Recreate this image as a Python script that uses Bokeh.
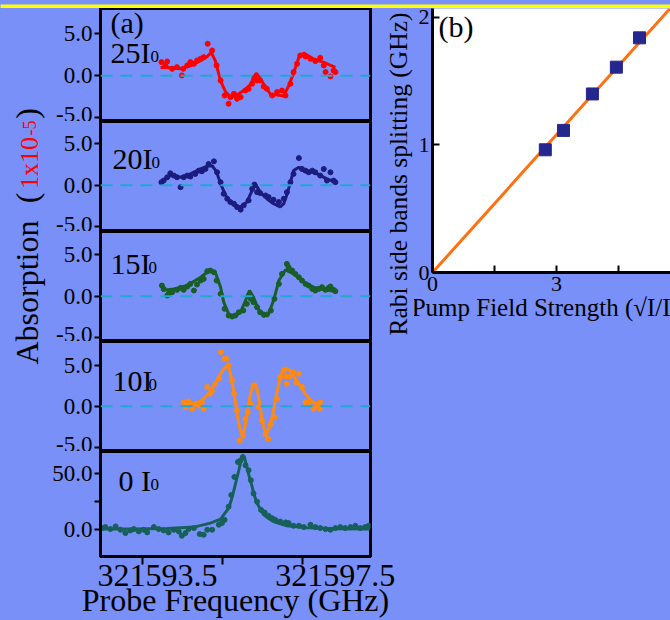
from bokeh.plotting import figure
from bokeh.models import Range1d, FixedTicker, Label, Span, Title
from bokeh.layouts import row, column
from bokeh.embed import file_html
from bokeh.resources import INLINE

# ---------------- data ----------------
# probe frequency given as offset (GHz) above 321590 GHz; absorption in 1e-5 units
x_tick_vals = [3.5, 7.5]
x_tick_labels = ["321593.5", "321597.5"]
x_minor_ticks = [3.163, 4.961, 6.758]

f25 = [3.59,3.68,3.72,3.83,3.94,4.05,4.08,4.17,4.24,4.32,4.39,4.47,4.54,4.63,4.73,4.83,4.92,5.01,5.10,5.14,5.22,5.29,5.37,5.48,5.55,5.63,5.68,5.74,5.81,5.89,5.96,6.08,6.19,6.30,6.38,6.49,6.56,6.64,6.71,6.83,6.94,7.05,7.16,7.24,7.28,7.39,7.46,7.50]
a25 = [1.63,1.23,1.71,0.83,1.03,0.04,0.83,1.23,1.63,1.43,1.83,2.02,2.22,3.81,3.02,1.23,-0.56,-2.34,-3.33,-2.54,-2.14,-2.74,-2.54,-1.75,-1.55,-0.95,-0.24,-0.56,-0.56,-1.27,-1.55,-2.34,-1.94,-1.75,-2.34,-0.95,0.44,1.43,2.42,2.30,2.02,1.75,2.14,1.23,0.44,-0.08,0.63,0.44]
fit25_f = [3.57,3.80,4.02,4.25,4.47,4.62,4.71,4.80,4.92,5.03,5.14,5.26,5.37,5.50,5.60,5.66,5.72,5.80,5.89,6.04,6.20,6.34,6.45,6.56,6.68,6.79,7.01,7.24,7.50]
fit25_a = [1.0,0.95,0.85,1.2,1.8,2.3,2.8,1.8,-0.6,-1.9,-2.5,-2.4,-2.0,-1.5,-1.0,-0.2,0.3,-0.2,-1.0,-2.2,-2.3,-2.4,-1.2,0.3,2.2,2.7,2.0,1.6,1.0]

f20 = [3.59,3.64,3.72,3.79,3.87,3.94,4.02,4.09,4.17,4.24,4.35,4.43,4.50,4.58,4.65,4.77,4.84,4.92,4.99,5.07,5.14,5.22,5.29,5.37,5.44,5.55,5.63,5.68,5.74,5.81,5.93,6.00,6.11,6.23,6.34,6.41,6.49,6.56,6.68,6.75,6.83,6.90,6.98,7.05,7.16,7.24,7.31,7.39,7.46,7.50]
a20 = [0.36,0.56,0.96,1.44,1.16,0.96,-0.24,0.96,1.16,1.04,1.36,1.76,1.68,1.96,2.56,2.88,1.56,0.36,-1.04,-1.64,-2.04,-2.24,-2.64,-2.96,-2.44,-1.84,-0.44,0.08,-0.84,-0.96,-1.24,-1.44,-1.76,-2.04,-1.64,-0.84,0.36,1.36,3.28,1.96,1.76,1.56,1.76,1.56,1.16,1.96,0.56,1.56,0.56,0.36]
fit20_f = [3.57,3.79,4.02,4.24,4.47,4.62,4.73,4.83,4.92,5.07,5.22,5.37,5.51,5.63,5.70,5.81,5.96,6.11,6.26,6.34,6.42,6.49,6.56,6.68,6.86,7.09,7.31,7.50]
fit20_a = [0.36,1.16,0.96,1.36,1.96,2.3,2.36,1.6,0.16,-1.64,-2.44,-2.64,-2.04,-0.64,0.16,-0.84,-1.64,-2.24,-2.64,-2.24,-1.0,0.36,1.76,2.16,1.76,1.36,0.76,0.36]

f15 = [3.60,3.64,3.72,3.75,3.83,3.94,4.02,4.09,4.17,4.24,4.32,4.39,4.47,4.54,4.62,4.69,4.77,4.83,4.92,5.01,5.10,5.18,5.25,5.33,5.43,5.51,5.55,5.60,5.66,5.74,5.81,5.89,5.96,6.05,6.13,6.23,6.30,6.41,6.45,6.53,6.60,6.68,6.75,6.83,6.90,6.98,7.05,7.13,7.20,7.28,7.35,7.39,7.46,7.50]
a15 = [1.28,0.88,0.08,0.28,0.48,0.76,1.0,0.76,1.16,1.48,0.68,1.40,1.88,2.08,3.0,3.08,2.88,1.88,0.28,-1.52,-2.32,-2.44,-2.32,-1.92,-1.72,-0.92,0.08,-0.32,-0.72,-1.32,-1.92,-2.20,-2.20,-1.72,-0.32,1.48,2.68,3.88,3.48,3.08,2.68,2.28,1.88,1.48,1.28,0.88,0.68,0.88,1.08,0.76,1.0,1.16,0.76,0.60]
fit15_f = [3.60,3.87,4.17,4.47,4.65,4.80,4.92,4.99,5.10,5.22,5.37,5.48,5.57,5.66,5.78,5.89,6.00,6.11,6.23,6.38,6.56,6.79,7.01,7.24,7.50]
fit15_a = [0.68,0.88,1.28,2.28,3.0,2.88,1.08,-0.72,-2.12,-2.44,-1.92,-0.52,0.68,-0.12,-1.72,-2.44,-2.12,-0.52,1.88,3.16,2.68,1.68,1.08,0.76,0.60]

f10 = [4.09,4.13,4.20,4.28,4.35,4.43,4.50,4.54,4.62,4.68,4.73,4.80,4.88,4.93,5.01,5.05,5.10,5.18,5.22,5.29,5.35,5.43,5.48,5.53,5.59,5.66,5.70,5.78,5.85,5.93,5.99,6.05,6.13,6.19,6.26,6.34,6.40,6.41,6.47,6.55,6.62,6.68,6.75,6.83,6.90,7.01,7.09,7.16,7.15]
a10 = [0.49,-0.12,0.57,-0.33,0.29,0.08,0.49,-0.33,2.34,1.52,1.93,2.75,3.36,6.64,5.82,5.82,5.0,3.16,1.52,-0.53,-4.22,-3.61,-1.56,-0.74,0.29,2.54,2.54,-0.12,-1.76,-3.40,-4.02,-2.17,-1.35,0.90,3.57,4.39,3.65,2.75,3.57,4.18,2.95,3.98,2.34,0.49,0.49,-0.33,0.08,0.49,-0.33]
fit10_f = [4.09,4.20,4.32,4.43,4.54,4.65,4.77,4.88,4.98,5.05,5.10,5.15,5.20,5.25,5.30,5.35,5.40,5.45,5.50,5.55,5.60,5.65,5.70,5.75,5.80,5.85,5.90,5.96,6.02,6.08,6.14,6.20,6.26,6.32,6.38,6.45,6.53,6.62,6.71,6.80,6.90,7.00,7.13]
fit10_a = [0.3,0.3,0.35,0.55,0.9,1.6,2.5,3.6,4.5,4.85,4.7,3.9,2.4,0.6,-1.2,-2.7,-3.4,-3.0,-1.6,0.2,1.7,2.6,2.75,1.9,0.3,-1.5,-2.8,-3.2,-2.6,-1.3,0.4,2.1,3.5,4.4,4.7,4.5,4.0,3.2,2.5,1.7,1.0,0.5,0.2]

f0 = [2.26,2.33,2.44,2.56,2.67,2.78,2.89,2.97,3.08,3.19,3.27,3.42,3.53,3.64,3.75,3.87,3.98,4.05,4.13,4.20,4.32,4.45,4.54,4.62,4.73,4.88,4.95,5.01,5.10,5.16,5.23,5.31,5.37,5.42,5.48,5.55,5.60,5.66,5.74,5.83,5.91,6.00,6.08,6.15,6.26,6.38,6.45,6.56,6.68,6.79,6.94,7.05,7.16,7.28,7.39,7.50,7.61,7.72,7.84,7.95,8.06,8.17,8.25]
a0 = [0.9,1.8,0.0,2.4,-0.6,-3.6,-1.2,0.0,-2.1,-0.6,-3.0,1.8,0.0,-1.2,-3.0,-0.6,-2.1,-6.0,-3.6,0.0,0.9,-4.5,-5.1,-0.6,-0.6,3.9,5.4,8.3,20.2,30.7,47.0,60.4,61.9,64.9,57.4,53.0,44.0,32.1,24.7,17.3,14.9,11.9,9.8,8.3,6.8,6.0,5.4,3.0,3.0,1.8,3.9,1.8,0.9,0.0,-0.6,0.9,1.8,0.9,1.8,3.0,0.9,1.8,3.0]
fit0_f = [2.22,2.97,3.72,4.32,4.69,4.92,5.10,5.16,5.22,5.28,5.33,5.38,5.42,5.46,5.51,5.56,5.63,5.68,5.74,5.89,6.00,6.11,6.41,6.86,7.46,8.29]
fit0_a = [0.0,0.0,0.6,1.8,5.4,8.9,18.8,26.0,35.1,45.0,53.0,62.0,66.4,64.0,56.0,48.0,38.1,30.0,23.2,12.8,9.5,6.8,3.0,1.2,0.3,0.0]

# panel (b): pump field strength sqrt(I/I0) vs Rabi splitting (GHz)
pump = [2.73, 3.17, 3.87, 4.45, 5.01]
split = [0.962, 1.114, 1.40, 1.61, 1.84]
fit_pump = [0.0, 6.0]
fit_split = [0.0, 2.16]

# ---------------- style ----------------
BLUE = "#7890f8"
FONT = "Liberation Serif"
CYAN = "#22a6d2"


def add_label(p, x, y, text, size, color="black", align="left"):
    p.add_layout(Label(x=x, y=y, text=text, text_font=FONT,
                       text_font_size=f"{size}px", text_color=color,
                       text_align=align, text_baseline="middle"))


def vtext(w, h, top, bottom, left, text, size, color="black", standoff=0):
    """A thin figure whose (invisible) left axis carries a vertical text."""
    p = figure(width=w, height=h, x_range=Range1d(0, 1), y_range=Range1d(0, 1),
               x_axis_location=None, y_axis_location="left", toolbar_location=None,
               output_backend="svg", min_border_left=left, min_border_right=w - left - 2,
               min_border_top=top, min_border_bottom=bottom,
               background_fill_color=BLUE, border_fill_color=BLUE, outline_line_color=None)
    p.grid.visible = False
    ax = p.yaxis[0]
    ax.ticker = FixedTicker(ticks=[], minor_ticks=[])
    ax.axis_line_color = None
    ax.major_tick_out = 0
    ax.major_tick_in = 0
    ax.minor_tick_out = 0
    ax.minor_tick_in = 0
    ax.major_label_standoff = 0
    ax.axis_label = text
    ax.axis_label_standoff = standoff
    ax.axis_label_text_font = FONT
    ax.axis_label_text_font_size = f"{size}px"
    ax.axis_label_text_font_style = "normal"
    ax.axis_label_text_color = color
    return p


xr = Range1d(2.22, 8.29)


def style_y(p, ticks, overrides, minor=()):
    ax = p.yaxis[0]
    ax.ticker = FixedTicker(ticks=ticks, minor_ticks=list(minor))
    ax.major_label_overrides = overrides
    ax.axis_line_width = 3
    ax.axis_line_color = "black"
    ax.major_tick_line_width = 2
    ax.major_tick_out = 6
    ax.major_tick_in = 0
    ax.minor_tick_line_width = 2
    ax.minor_tick_out = 6
    ax.minor_tick_in = 0
    ax.major_label_text_font = FONT
    ax.major_label_text_font_size = "23px"
    ax.major_label_text_color = "black"
    ax.major_label_standoff = 2


def sub(h, yr, width=324, mbr=2, mbb=0, xaxis=False):
    p = figure(width=width, height=h, x_range=xr, y_range=Range1d(*yr),
               x_axis_location="below" if xaxis else None,
               toolbar_location=None, output_backend="svg",
               min_border_left=52, min_border_right=mbr, min_border_top=0,
               min_border_bottom=mbb, background_fill_color=BLUE,
               border_fill_color=BLUE, outline_line_color="black",
               outline_line_width=3)
    p.grid.visible = False
    return p


small = {-5: "-5.0", 0: "0.0", 5: "5.0"}


def trace(p, f, a, ff, fa, color, zero=True):
    if zero:
        p.add_layout(Span(location=0, dimension="width", line_color=CYAN,
                          line_dash="12 8", line_width=2))
    p.line(ff, fa, line_color=color, line_width=3)
    p.scatter(f, a, size=5, color=color)


# top yellow strip with dark rule
top = figure(width=670, height=8, x_range=Range1d(0, 1), y_range=Range1d(0, 8),
             x_axis_location=None, y_axis_location=None, toolbar_location=None,
             output_backend="svg", min_border=0, background_fill_color="#ffff00",
             border_fill_color="#ffff00", outline_line_color=None)
top.grid.visible = False
top.add_layout(Span(location=1, dimension="width", line_color="#1a1a1a", line_width=2))

s1 = sub(113, (-5.44, 8.01))
style_y(s1, [-5, 0, 5], small)
trace(s1, f25, a25, fit25_f, fit25_a, "#ff0000")
add_label(s1, 2.444, 6.35, "(a)", 30)
add_label(s1, 2.444, 2.78, "25I", 30)
add_label(s1, 3.343, 2.26, "0", 17)

s2 = sub(110, (-5.6, 7.7))
style_y(s2, [-5, 0, 5], small)
trace(s2, f20, a20, fit20_f, fit20_a, "#1c1c7e")
add_label(s2, 2.489, 3.24, "20I", 30)
add_label(s2, 3.365, 2.71, "0", 17)

s3 = sub(110, (-5.44, 7.77))
style_y(s3, [-5, 0, 5], small)
trace(s3, f15, a15, fit15_f, fit15_a, "#185e26")
add_label(s3, 2.444, 3.93, "15I", 30)
add_label(s3, 3.30, 3.41, "0", 17)

s4 = sub(110, (-5.55, 7.93))
style_y(s4, [-5, 0, 5], small)
trace(s4, f10, a10, fit10_f, fit10_a, "#ff8a12")
add_label(s4, 2.489, 3.16, "10I", 30)
add_label(s4, 3.30, 2.62, "0", 17)

s5 = sub(169, (-24.7, 69.9), width=622, mbr=300, mbb=63, xaxis=True)
style_y(s5, [0, 50], {0: "0.0", 50: "50.0"}, minor=[-25, 25])
trace(s5, f0, a0, fit0_f, fit0_a, "#17605a", zero=False)
xa = s5.xaxis[0]
xa.ticker = FixedTicker(ticks=x_tick_vals, minor_ticks=x_minor_ticks)
xa.major_label_overrides = dict(zip(x_tick_vals, x_tick_labels))
xa.axis_line_width = 3
xa.axis_line_color = "black"
xa.major_tick_out = 0
xa.major_tick_in = 0
xa.minor_tick_out = 8
xa.minor_tick_in = 0
xa.minor_tick_line_width = 2
xa.major_label_text_font = FONT
xa.major_label_text_font_size = "32px"
xa.major_label_text_color = "black"
xa.major_label_standoff = 0
xa.axis_label = "Probe Frequency (GHz)"
xa.axis_label_text_font = FONT
xa.axis_label_text_font_size = "32px"
xa.axis_label_text_font_style = "normal"
xa.axis_label_text_color = "black"
xa.axis_label_standoff = -7
add_label(s5, 2.624, 44.1, "0 I", 30)
add_label(s5, 3.343, 40.2, "0", 17)

# ---------------- panel (b) ----------------
fb = figure(width=256, height=443, x_range=Range1d(0, 5.76), y_range=Range1d(0, 2.07),
            toolbar_location=None, output_backend="svg",
            min_border_left=18, min_border_right=0, min_border_top=0, min_border_bottom=179,
            background_fill_color="white", border_fill_color=BLUE, outline_line_color=None)
fb.grid.visible = False
bx = fb.xaxis[0]
bx.ticker = FixedTicker(ticks=[0, 3], minor_ticks=[1.5, 4.5])
by = fb.yaxis[0]
by.ticker = FixedTicker(ticks=[0, 1, 2], minor_ticks=[])
for ax in (bx, by):
    ax.axis_line_width = 3
    ax.axis_line_color = "black"
    ax.major_tick_line_width = 2
    ax.minor_tick_line_width = 2
    ax.major_tick_out = 0
    ax.minor_tick_out = 0
    ax.major_tick_in = 7
    ax.minor_tick_in = 7
    ax.major_label_text_font = FONT
    ax.major_label_text_font_size = "22px"
    ax.major_label_text_color = "black"
bx.major_label_standoff = 4
by.major_label_standoff = 3
bx.axis_label = "Pump Field Strength (\u221aI/I0)"
bx.axis_label_text_font = FONT
bx.axis_label_text_font_size = "25px"
bx.axis_label_text_font_style = "normal"
bx.axis_label_text_color = "black"
bx.axis_label_standoff = 0
fb.line(fit_pump, fit_split, line_color="#ff7010", line_width=3)
fb.scatter(pump, split, marker="square", size=12, color="#26268f")
add_label(fb, 0.145, 1.93, "(b)", 30)

# strip left of panel (b) carrying its vertical axis title
sb = figure(width=42, height=443, x_range=Range1d(0, 1), y_range=Range1d(0, 1),
            x_axis_location=None, y_axis_location=None, toolbar_location=None,
            output_backend="svg", min_border_left=40, min_border_right=0,
            min_border_top=0, min_border_bottom=179,
            background_fill_color=BLUE, border_fill_color=BLUE, outline_line_color=None)
sb.grid.visible = False
sb.add_layout(Title(text="Rabi side bands splitting (GHz)", align="left", offset=-63,
                    standoff=0, text_font=FONT, text_font_size="25.5px",
                    text_font_style="normal", text_color="black"), "left")

# ---------------- y label of panel (a), built piece by piece ----------------
pa = vtext(48, 111, 99, 0, 44, ")", 32)
pb = vtext(48, 17, 0, 0, 44, "-5", 18, color="#ff0000", standoff=9)
pc = vtext(48, 53, 0, 0, 44, "1x10", 26, color="#ff0000", standoff=1)
pd = vtext(48, 17, 0, 0, 44, "(", 32)
pe = vtext(48, 414, 14, 256, 44, "Absorption", 32)
sa = column(pa, pb, pc, pd, pe)

layout = column(top,
                row(sa, column(row(column(s1, s2, s3, s4), sb, fb), s5),
                    styles={"background-color": BLUE}),
                styles={"background-color": BLUE})

open("out.html", "w").write(file_html(layout, INLINE))
